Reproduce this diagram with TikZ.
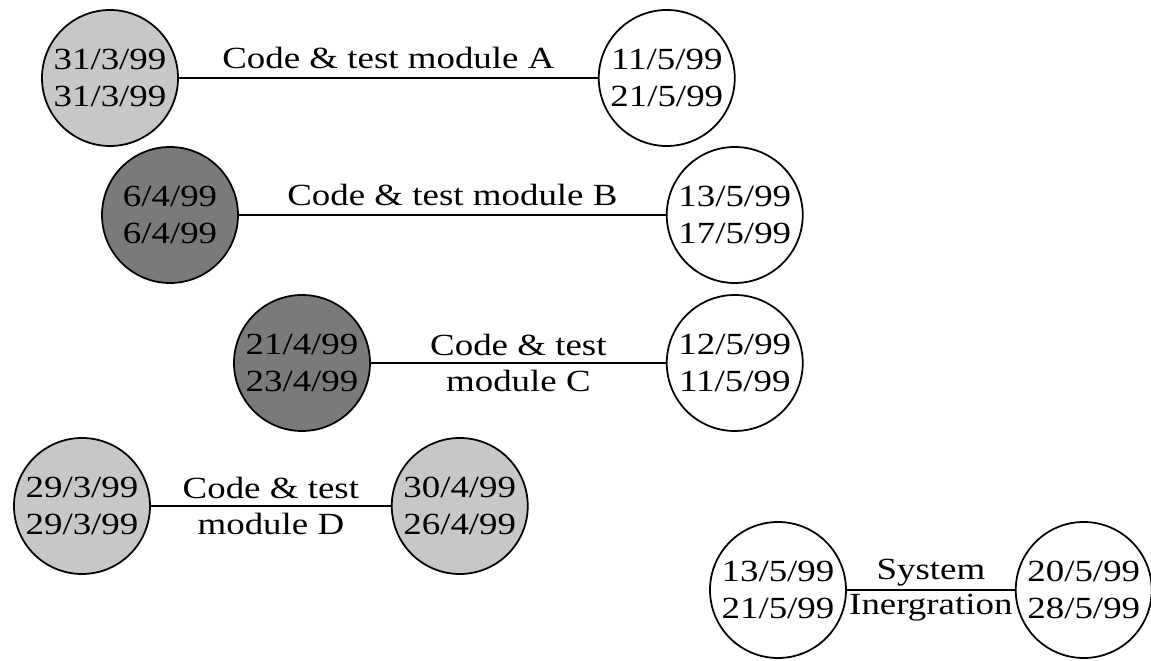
\documentclass[tikz,border=0pt]{standalone}
\usepackage{fontspec}
\setmainfont[FakeStretch=1.2]{Liberation Serif}
\usepackage{tikz}
\usetikzlibrary{positioning}
\definecolor{lightev}{gray}{0.78}
\definecolor{darkev}{gray}{0.48}

\begin{document}
\begin{tikzpicture}[
    event/.style={circle, draw, line width=1pt, minimum size=2.72cm, inner sep=0pt, align=center, font=\fontsize{17.5}{21}\selectfont},
    activity/.style={line width=1pt},
    lbl/.style={align=center, font=\fontsize{17.5}{20}\selectfont}
]
    \useasboundingbox (0,0) rectangle (23.02,13.22);

    % module A
    \node[event, fill=lightev] (startA) at (2.20,11.66) {31/3/99\\31/3/99};
    \node[event, right=8.38cm of startA] (endA) {11/5/99\\21/5/99};
    \draw[activity] (startA) -- node[lbl, above=0.05cm] {Code \& test module A} (endA);

    % module B
    \node[event, fill=darkev] (startB) at (3.40,8.92) {6/4/99\\6/4/99};
    \node[event, right=8.54cm of startB] (endB) {13/5/99\\17/5/99};
    \draw[activity] (startB) -- node[lbl, above=0.05cm] {Code \& test module B} (endB);

    % module C
    \node[event, fill=darkev] (startC) at (6.04,5.96) {21/4/99\\23/4/99};
    \node[event, right=5.9cm of startC] (endC) {12/5/99\\11/5/99};
    \draw[activity] (startC) -- node[lbl] {Code \& test\\module C} (endC);

    % module D
    \node[event, fill=lightev] (startD) at (1.64,3.10) {29/3/99\\29/3/99};
    \node[event, fill=lightev, right=4.8cm of startD] (endD) {30/4/99\\26/4/99};
    \draw[activity] (startD) -- node[lbl] {Code \& test\\module D} (endD);

    % integration
    \node[event] (startS) at (15.56,1.42) {13/5/99\\21/5/99};
    \node[event, right=3.36cm of startS] (endS) {20/5/99\\28/5/99};
    \draw[activity] (startS) -- node[lbl] {System\\Inergration} (endS);
\end{tikzpicture}
\end{document}
